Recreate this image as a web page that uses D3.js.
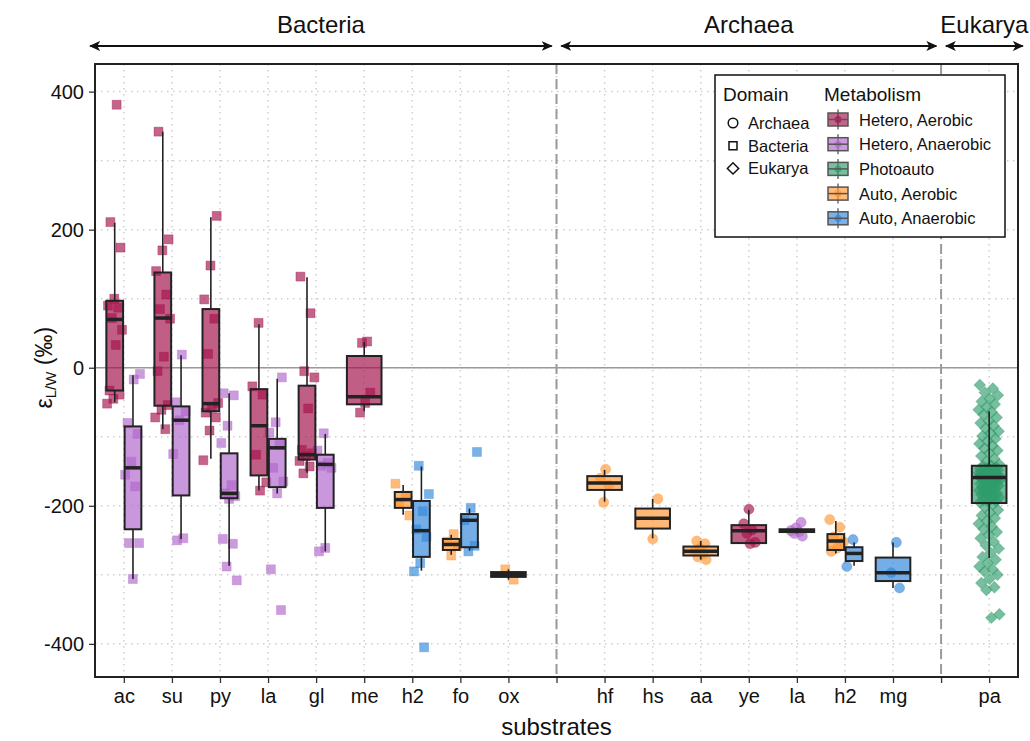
<!DOCTYPE html>
<html lang="en">
<head>
<meta charset="UTF-8" />
<title>Hydrogen fractionation by substrate</title>
<style>
  body { margin: 0; background: #fff; font-family: "Liberation Sans", Arial, sans-serif; }
  svg text { fill: #111; }
</style>
</head>
<body>
<div id="chart"></div>
<script src="https://d3js.org/d3.v7.min.js"></script>
<script>
// x slots; the empty ones are the dashed separators between domains
const substrates = ["ac", "su", "py", "la", "gl", "me", "h2", "fo", "ox", "",
                    "hf", "hs", "aa", "ye", "la", "h2", "mg", "", "pa"];
const separators = [10, 18];
const domainNames = ["Bacteria", "Archaea", "Eukarya"];
const domainShape = { Archaea: "circle", Bacteria: "square", Eukarya: "diamond" };

const metabolisms = ["Hetero, Aerobic", "Hetero, Anaerobic", "Photoauto", "Auto, Aerobic", "Auto, Anaerobic"];
const metColors = ["#a3124b", "#b066cb", "#2f9c6c", "#ff9633", "#3388dc"];

// one entry per box: slot (1-based), metabolism index, domain, dodge side
const groupSlot   = [1, 1, 2, 2, 3, 3, 4, 4, 5, 5, 6, 7, 7, 8, 8, 9, 11, 12, 13, 14, 15, 16, 16, 17, 19];
const groupMet    = [0, 1, 0, 1, 0, 1, 0, 1, 0, 1, 0, 3, 4, 3, 4, 3, 3, 3, 3, 0, 1, 3, 4, 4, 2];
const groupDomain = ["Bacteria", "Bacteria", "Bacteria", "Bacteria", "Bacteria", "Bacteria", "Bacteria",
                     "Bacteria", "Bacteria", "Bacteria", "Bacteria", "Bacteria", "Bacteria", "Bacteria",
                     "Bacteria", "Bacteria", "Archaea", "Archaea", "Archaea", "Archaea", "Archaea",
                     "Archaea", "Archaea", "Archaea", "Eukarya"];
const groupDodge  = [-1, 1, -1, 1, -1, 1, -1, 1, -1, 1, 0, -1, 1, -1, 1, 0, 0, 0, 0, 0, 0, -1, 1, 0, 0];

// box statistics (permil)
const whiskLo = [-50, -306, -89, -248, -132, -287, -178, -182, -152, -266, -63, -213, -294, -271, -265, -307,
                 -194, -247, -278, -254, -240, -269, -287, -319, -276];
const boxQ1   = [-33, -234, -55, -185, -63, -189, -156, -173, -133, -203, -53, -203, -274, -264, -260, -303,
                 -177, -233, -272, -254, -238, -264, -280, -309, -196];
const boxMed  = [70, -145, 72, -76, -52, -182, -84, -116, -126, -140, -42, -191, -236, -256, -221, -300,
                 -167, -218, -266, -236, -236, -251, -269, -297, -159];
const boxQ3   = [97, -85, 138, -56, 85, -124, -31, -103, -26, -126, 17, -180, -193, -248, -212, -296,
                 -157, -204, -259, -228, -234, -241, -260, -275, -142];
const whiskHi = [210, -11, 342, 18, 218, -37, 63, -16, 131, -96, 37, -170, -143, -242, -204, -292,
                 -148, -190, -251, -206, -232, -222, -253, -253, -63];

// individual measurements (permil)
const groupPoints = [
  [381, 211, 174, 100, 90, 87, 72, 55, 33, -33, -39, -45, -52],
  [-9, -17, -80, -96, -136, -155, -172, -254, -254, -306],
  [342, 186, 170, 140, 106, 85, 71, 16, -5, -54, -61, -72, -89],
  [19, -50, -63, -76, -125, -247, -250],
  [220, 148, 99, 71, 20, -51, -58, -65, -72, -91, -134],
  [-37, -40, -84, -109, -170, -182, -186, -190, -248, -255, -288, -308],
  [65, -27, -39, -126, -166, -178],
  [-14, -79, -94, -112, -145, -165, -182, -292, -351],
  [132, 79, -5, -14, -59, -119, -124, -128, -135, -143, -153],
  [-95, -120, -138, -142, -145, -261, -266],
  [38, 36, -36, -51, -65],
  [-168, -185, -195, -214],
  [-142, -183, -208, -234, -245, -283, -295, -405],
  [-241, -252, -258, -272],
  [-122, -203, -221, -258, -266],
  [-292, -307],
  [-147, -160, -170, -195],
  [-190, -248],
  [-251, -255, -262, -266, -270, -274, -278],
  [-205, -226, -235, -240, -253, -255],
  [-224, -232, -236, -238, -240, -244],
  [-220, -231, -245, -252, -261, -266],
  [-249, -288],
  [-253, -297, -319],
  [-25, -30, -36, -40, -45, -49, -53, -57, -61, -64,
   -68, -72, -77, -80, -84, -88, -92, -95, -99, -103, -106, -110, -113, -117, -120, -124, -128, -132, -136, -140,
   -142, -143, -144, -145, -146, -146, -147, -148, -149, -150, -150, -151, -152, -152, -153, -154, -154, -155,
   -155, -156, -156, -157, -157, -158, -158, -158, -159, -159, -159, -159,
   -160, -161, -162, -163, -164, -165, -166, -167, -168, -169, -170, -171, -173, -174, -175, -176, -178, -179,
   -180, -182, -183, -184, -186, -187, -188, -190, -191, -193, -194, -195,
   -198, -202, -206, -210, -214, -218, -222, -226, -230, -234, -238, -242, -247, -252, -257, -262, -268, -274,
   -278, -283, -288, -292, -295, -300, -306, -312, -318, -322, -357, -362]
];

const yTicks = [-400, -200, 0, 200, 400];
const yGrid = [-400, -300, -200, -100, 0, 100, 200, 300, 400];

// ---------- layout ----------
const width = 1030, height = 741;
const panel = { left: 95, right: 1018, top: 64, bottom: 677 };

const svg = d3.select("#chart").append("svg")
  .attr("width", width).attr("height", height);

const x = d3.scaleLinear().domain([0.4, substrates.length + 0.6]).range([panel.left, panel.right]);
const y = d3.scaleLinear().domain([-448, 440]).range([panel.bottom, panel.top]);
const unit = x(2) - x(1);

// grid
const grid = svg.append("g");
grid.selectAll(".gy").data(yGrid).enter().append("line")
  .attr("x1", panel.left).attr("x2", panel.right)
  .attr("y1", d => y(d)).attr("y2", d => y(d))
  .attr("stroke", "#cfcfcf").attr("stroke-width", 1.5).attr("stroke-dasharray", "1.5,4.5");
grid.selectAll(".gx").data(d3.range(1, substrates.length + 1)).enter().append("line")
  .attr("y1", panel.top).attr("y2", panel.bottom)
  .attr("x1", d => x(d)).attr("x2", d => x(d))
  .attr("stroke", "#cfcfcf").attr("stroke-width", 1.5).attr("stroke-dasharray", "1.5,4.5");

// zero line
svg.append("line")
  .attr("x1", panel.left).attr("x2", panel.right)
  .attr("y1", y(0)).attr("y2", y(0))
  .attr("stroke", "#9a9a9a").attr("stroke-width", 1.5);

// domain separators
svg.selectAll(".sep").data(separators).enter().append("line")
  .attr("x1", d => x(d)).attr("x2", d => x(d))
  .attr("y1", panel.top).attr("y2", panel.bottom)
  .attr("stroke", "#9a9a9a").attr("stroke-width", 2).attr("stroke-dasharray", "10,5");

// box geometry
function center(i) {
  return x(groupSlot[i] + groupDodge[i] * 0.19);
}
function halfW(i) {
  return (groupDodge[i] === 0 ? 0.36 : 0.174) * unit;
}
function jitter(i, k) {
  // deterministic spread of the points around the box centre
  const f = ((k + 1) * 0.618034 + i * 0.31) % 1;
  const spread = groupSlot[i] === 19 ? 0.22 : (groupDodge[i] === 0 ? 0.14 : 0.17);
  return (f - 0.5) * 2 * spread * unit;
}

// points first
const symbolGen = {
  circle: d3.symbol().type(d3.symbolCircle).size(80),
  square: d3.symbol().type(d3.symbolSquare).size(80),
  diamond: d3.symbol().type(d3.symbolSquare).size(66)
};
const pts = [];
groupPoints.forEach((arr, i) => arr.forEach((v, k) => pts.push({ i, k, v })));
svg.append("g").selectAll("path").data(pts).enter().append("path")
  .attr("d", d => symbolGen[domainShape[groupDomain[d.i]]]())
  .attr("transform", d => {
    const t = `translate(${center(d.i) + jitter(d.i, d.k)},${y(d.v)})`;
    return domainShape[groupDomain[d.i]] === "diamond" ? t + " rotate(45)" : t;
  })
  .attr("fill", d => metColors[groupMet[d.i]])
  .attr("fill-opacity", 0.65)
  .attr("stroke", d => metColors[groupMet[d.i]])
  .attr("stroke-opacity", 0.35)
  .attr("stroke-width", 1);

// boxes
const idx = d3.range(groupSlot.length);
const boxes = svg.append("g").selectAll("g").data(idx).enter().append("g");
boxes.append("line")
  .attr("x1", i => center(i)).attr("x2", i => center(i))
  .attr("y1", i => y(whiskHi[i])).attr("y2", i => y(boxQ3[i]))
  .attr("stroke", "#222").attr("stroke-width", 1.6);
boxes.append("line")
  .attr("x1", i => center(i)).attr("x2", i => center(i))
  .attr("y1", i => y(boxQ1[i])).attr("y2", i => y(whiskLo[i]))
  .attr("stroke", "#222").attr("stroke-width", 1.6);
boxes.append("rect")
  .attr("x", i => center(i) - halfW(i))
  .attr("width", i => 2 * halfW(i))
  .attr("y", i => y(boxQ3[i]))
  .attr("height", i => Math.max(1, y(boxQ1[i]) - y(boxQ3[i])))
  .attr("fill", i => metColors[groupMet[i]])
  .attr("fill-opacity", 0.68)
  .attr("stroke", "#222").attr("stroke-width", 2);
boxes.append("line")
  .attr("x1", i => center(i) - halfW(i)).attr("x2", i => center(i) + halfW(i))
  .attr("y1", i => y(boxMed[i])).attr("y2", i => y(boxMed[i]))
  .attr("stroke", "#222").attr("stroke-width", 3.5);

// panel border
svg.append("rect")
  .attr("x", panel.left).attr("y", panel.top)
  .attr("width", panel.right - panel.left).attr("height", panel.bottom - panel.top)
  .attr("fill", "none").attr("stroke", "#222").attr("stroke-width", 2);

// axes
const xAxis = d3.axisBottom(x)
  .tickValues(d3.range(1, substrates.length + 1))
  .tickFormat(d => substrates[d - 1])
  .tickSize(5).tickPadding(6);
const gx = svg.append("g").attr("transform", `translate(0,${panel.bottom + 1})`).call(xAxis);
gx.select(".domain").remove();
gx.selectAll("line").attr("stroke", "#333").attr("stroke-width", 1.3);
gx.selectAll("text").attr("font-size", 20).attr("font-family", "Liberation Sans, Arial, sans-serif").attr("fill", "#111");

const yAxis = d3.axisLeft(y).tickValues(yTicks).tickFormat(d => String(d)).tickSize(5).tickPadding(5);
const gy = svg.append("g").attr("transform", `translate(${panel.left - 1},0)`).call(yAxis);
gy.select(".domain").remove();
gy.selectAll("line").attr("stroke", "#333").attr("stroke-width", 1.3);
gy.selectAll("text").attr("font-size", 20).attr("font-family", "Liberation Sans, Arial, sans-serif").attr("fill", "#111");

// axis titles
svg.append("text")
  .attr("x", (panel.left + panel.right) / 2).attr("y", 735)
  .attr("text-anchor", "middle").attr("font-size", 24)
  .text("substrates");

const yl = svg.append("text")
  .attr("transform", `translate(52,${y(0)}) rotate(-90)`)
  .attr("text-anchor", "middle").attr("font-size", 23);
yl.append("tspan").text("ε");
yl.append("tspan").attr("font-size", 15).attr("dy", 4).text("L/W");
yl.append("tspan").attr("dy", -4).text(" (‰)");

// domain arrows above the panel
const domainFrom = [0.3, 10.1, 18.1];
const domainTo = [9.9, 17.9, 19.7];
svg.append("defs").append("marker")
  .attr("id", "arr").attr("viewBox", "0 0 10 10")
  .attr("refX", 9).attr("refY", 5)
  .attr("markerWidth", 11).attr("markerHeight", 11)
  .attr("markerUnits", "userSpaceOnUse")
  .attr("orient", "auto-start-reverse")
  .append("path").attr("d", "M0,0.5 L10,5 L0,9.5 L2.5,5 Z").attr("fill", "#111");

domainNames.forEach((name, k) => {
  svg.append("line")
    .attr("x1", x(domainFrom[k])).attr("x2", x(domainTo[k]))
    .attr("y1", 46).attr("y2", 46)
    .attr("stroke", "#111").attr("stroke-width", 2)
    .attr("marker-start", "url(#arr)").attr("marker-end", "url(#arr)");
  svg.append("text")
    .attr("x", (x(domainFrom[k]) + x(domainTo[k])) / 2).attr("y", 33)
    .attr("text-anchor", "middle").attr("font-size", 24)
    .text(name);
});

// legend
const lg = svg.append("g");
lg.append("rect")
  .attr("x", 715).attr("y", 75).attr("width", 290).attr("height", 162)
  .attr("fill", "#fff").attr("stroke", "#111").attr("stroke-width", 1.5);
lg.append("text").attr("x", 723).attr("y", 101).attr("font-size", 19).text("Domain");
lg.append("text").attr("x", 824).attr("y", 101).attr("font-size", 19).text("Metabolism");

const legendDomains = ["Archaea", "Bacteria", "Eukarya"];
legendDomains.forEach((name, k) => {
  const cy = 123 + k * 22.7;
  const shape = domainShape[name];
  lg.append("path")
    .attr("d", d3.symbol().type(d3.symbolSquare).size(shape === "circle" ? 0 : 64)())
    .attr("transform", `translate(733,${cy})` + (shape === "diamond" ? " rotate(45)" : ""))
    .attr("fill", "none").attr("stroke", "#111").attr("stroke-width", 1.5);
  if (shape === "circle") {
    lg.append("circle").attr("cx", 733).attr("cy", cy).attr("r", 4.8)
      .attr("fill", "none").attr("stroke", "#111").attr("stroke-width", 1.5);
  }
  lg.append("text").attr("x", 748).attr("y", cy + 6).attr("font-size", 16.5).text(name);
});

metabolisms.forEach((name, k) => {
  const cy = 119.5 + k * 24.7;
  const g = lg.append("g");
  g.append("line").attr("x1", 838).attr("x2", 838).attr("y1", cy - 10).attr("y2", cy + 10)
    .attr("stroke", "#555").attr("stroke-width", 1.3);
  g.append("rect").attr("x", 828).attr("y", cy - 6.5).attr("width", 20).attr("height", 13)
    .attr("fill", metColors[k]).attr("fill-opacity", 0.65)
    .attr("stroke", "#555").attr("stroke-width", 1.5);
  g.append("circle").attr("cx", 838).attr("cy", cy).attr("r", 3.5)
    .attr("fill", metColors[k]).attr("fill-opacity", 0.7);
  g.append("line").attr("x1", 828).attr("x2", 848).attr("y1", cy).attr("y2", cy)
    .attr("stroke", "#555").attr("stroke-width", 1.5);
  g.append("text").attr("x", 859).attr("y", cy + 6).attr("font-size", 16.5).text(name);
});
</script>
</body>
</html>
